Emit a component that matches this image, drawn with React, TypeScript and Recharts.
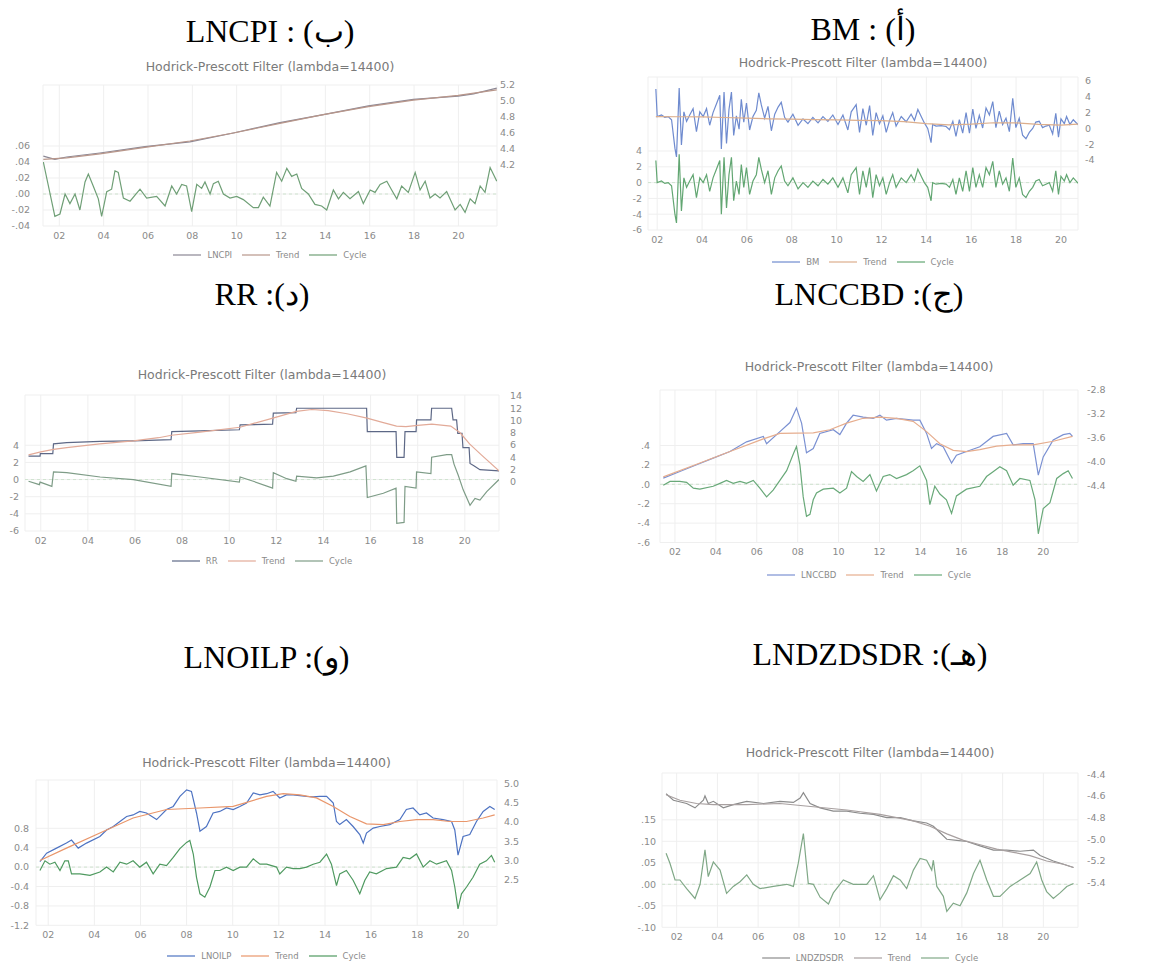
import { LineChart, Line, XAxis, YAxis, CartesianGrid, ReferenceLine } from "recharts";

type Pt = [number, number];

const TITLE = "Hodrick-Prescott Filter (lambda=14400)";
const yearTicks = [2002, 2004, 2006, 2008, 2010, 2012, 2014, 2016, 2018, 2020];

// (ب) LNCPI
const cpiLevel: Pt[] = [
  [2001.28, 4.31], [2001.8, 4.27], [2002.33, 4.3], [2003.83, 4.35], [2005.86, 4.43], [2007.89, 4.49],
  [2009.85, 4.6], [2011.95, 4.73], [2013.91, 4.83], [2015.94, 4.94], [2017.97, 5.02], [2019.99, 5.06],
  [2020.68, 5.09], [2021.73, 5.16],
];
const cpiTrend: Pt[] = [
  [2001.28, 4.27], [2002.33, 4.29], [2003.83, 4.34], [2005.86, 4.42], [2007.89, 4.5], [2009.85, 4.6],
  [2011.95, 4.72], [2013.91, 4.83], [2015.94, 4.93], [2017.97, 5.01], [2019.99, 5.07], [2021.73, 5.14],
];
const cpiCycle: Pt[] = [
  [2001.28, 0.04], [2001.8, -0.028], [2002.03, -0.025], [2002.26, 0], [2002.48, -0.012], [2002.71, 0],
  [2002.93, -0.02], [2003.16, 0.015], [2003.31, 0.025], [2003.53, 0.01], [2003.76, -0.006], [2003.91, -0.028],
  [2004.14, 0.003], [2004.36, 0.006], [2004.51, 0.029], [2004.66, 0.027], [2004.89, -0.005], [2005.19, -0.009],
  [2005.64, 0.006], [2005.94, -0.005], [2006.39, -0.003], [2006.77, -0.015], [2007.07, 0.01], [2007.29, 0],
  [2007.52, 0.012], [2007.74, 0.01], [2007.97, -0.022], [2008.2, 0.012], [2008.42, 0.007], [2008.57, 0.015],
  [2008.8, 0], [2008.95, 0.013], [2009.17, 0.016], [2009.4, 0], [2009.7, -0.005], [2010.0, -0.003],
  [2010.3, -0.007], [2010.75, -0.017], [2010.98, -0.017], [2011.2, -0.004], [2011.5, -0.015], [2011.8, 0.027],
  [2012.03, 0.016], [2012.26, 0.032], [2012.48, 0.022], [2012.71, 0.025], [2012.93, 0.007], [2013.23, 0],
  [2013.53, -0.013], [2013.83, -0.015], [2014.06, -0.02], [2014.36, 0.005], [2014.59, -0.006], [2014.81, 0.002],
  [2015.11, -0.006], [2015.49, 0.003], [2015.71, -0.012], [2016.02, 0.005], [2016.24, 0.002], [2016.47, 0.012],
  [2016.77, 0.016], [2016.99, 0.005], [2017.22, -0.006], [2017.44, 0.01], [2017.74, 0.002], [2018.05, 0.027],
  [2018.27, 0.005], [2018.5, 0.016], [2018.72, -0.005], [2018.95, 0], [2019.17, -0.005], [2019.47, 0.003],
  [2019.85, -0.02], [2020.08, -0.013], [2020.3, -0.023], [2020.53, -0.006], [2020.75, -0.012], [2020.98, 0.01],
  [2021.2, 0.002], [2021.43, 0.033], [2021.73, 0.016],
];

// (أ) BM
const bmLevel: Pt[] = [
  [2001.94, 5.0], [2002.0, 1.5], [2002.19, 1.7], [2002.34, 1.4], [2002.49, 1.5], [2002.64, 1.1], [2002.79, -2.5],
  [2002.86, -3.6], [2002.98, 5.1], [2003.08, -2.1], [2003.19, 2.1], [2003.31, 0.9], [2003.45, 1.7], [2003.6, 2.5],
  [2003.75, -0.4], [2003.9, 2.1], [2004.05, 1.5], [2004.2, 2.5], [2004.34, 0.4], [2004.49, 2.0], [2004.64, 3.1],
  [2004.79, 4.2], [2004.86, -2.6], [2004.98, 4.6], [2005.09, -1.9], [2005.2, 2.4], [2005.31, 4.6], [2005.41, -0.9],
  [2005.53, 1.6], [2005.65, -0.1], [2005.75, 3.7], [2005.86, 0.8], [2005.98, 3.2], [2006.12, -0.2], [2006.27, 1.5],
  [2006.42, 2.3], [2006.53, 4.5], [2006.64, 3.0], [2006.79, 1.3], [2006.94, 2.8], [2007.09, -0.3], [2007.24, 1.8],
  [2007.39, 2.7], [2007.53, 3.3], [2007.68, 1.4], [2007.83, 0.8], [2008.05, 1.8], [2008.28, 0.4], [2008.5, 1.2],
  [2008.72, 0.6], [2008.94, 1.4], [2009.17, 0.7], [2009.39, 1.5], [2009.61, 0.9], [2009.83, 1.7], [2010.06, 0.5],
  [2010.28, 1.7], [2010.5, -0.2], [2010.65, 2.1], [2010.87, 3.0], [2011.02, -0.5], [2011.17, 2.5], [2011.32, 0.4],
  [2011.47, 2.9], [2011.61, -0.9], [2011.76, 2.0], [2011.91, 0.6], [2012.06, 1.6], [2012.21, -0.5], [2012.36, 1.0],
  [2012.5, 2.0], [2012.65, 0.3], [2012.88, 1.5], [2013.1, 0.85], [2013.32, 1.8], [2013.47, 1.0], [2013.62, 2.4],
  [2013.77, 1.5], [2013.91, 0.7], [2014.06, 0.0], [2014.21, -1.8], [2014.28, 0.5], [2014.43, 0.3], [2014.66, 0.35],
  [2014.88, 0.25], [2015.03, -0.15], [2015.18, 0.9], [2015.32, -1.0], [2015.47, 1.1], [2015.62, -0.6], [2015.77, 2.0],
  [2015.92, -0.6], [2016.07, 2.45], [2016.21, 0.0], [2016.36, 1.65], [2016.51, 0.05], [2016.66, 2.6], [2016.81, 1.7],
  [2016.96, 3.4], [2017.1, 0.1], [2017.25, 2.2], [2017.4, 0.5], [2017.55, 1.3], [2017.7, -0.4], [2017.85, 3.8],
  [2017.99, 0.1], [2018.14, 1.3], [2018.29, -0.85], [2018.44, -1.3], [2018.59, -0.5], [2018.74, 0.0], [2018.88, 0.8],
  [2019.03, 0.9], [2019.18, 0.1], [2019.33, 0.3], [2019.48, 0.4], [2019.63, -0.7], [2019.77, 1.9], [2019.89, -1.1],
  [2020.0, 1.2], [2020.15, 0.6], [2020.25, 1.5], [2020.4, 0.5], [2020.55, 1.1], [2020.77, 0.45],
];
const bmTrend: Pt[] = [
  [2001.94, 1.5], [2003, 1.48], [2004, 1.45], [2005, 1.38], [2006, 1.3], [2007, 1.22], [2008, 1.18], [2009, 1.12],
  [2010, 1.08], [2011, 1.02], [2012, 0.98], [2013, 0.85], [2014, 0.6], [2015, 0.45], [2016, 0.55], [2017, 0.72],
  [2018, 0.7], [2019, 0.5], [2020, 0.42], [2020.77, 0.55],
];
const bmCycle: Pt[] = [
  [2001.94, 2.8], [2002.0, 0], [2002.19, 0.2], [2002.34, -0.1], [2002.49, 0], [2002.64, -0.4], [2002.79, -4.0],
  [2002.86, -5.1], [2002.98, 3.6], [2003.08, -3.6], [2003.19, 0.6], [2003.31, -0.6], [2003.45, 0.2], [2003.6, 1.0],
  [2003.75, -1.9], [2003.9, 0.6], [2004.05, 0], [2004.2, 1.0], [2004.34, -1.1], [2004.49, 0.6], [2004.64, 1.7],
  [2004.79, 2.8], [2004.86, -4.0], [2004.98, 3.2], [2005.09, -3.2], [2005.2, 1.0], [2005.31, 3.2], [2005.41, -2.3],
  [2005.53, 0.2], [2005.65, -1.5], [2005.75, 2.3], [2005.86, -0.6], [2005.98, 1.9], [2006.12, -1.5], [2006.27, 0.2],
  [2006.42, 1.0], [2006.53, 3.2], [2006.64, 1.7], [2006.79, 0], [2006.94, 1.5], [2007.09, -1.5], [2007.24, 0.6],
  [2007.39, 1.5], [2007.53, 2.1], [2007.68, 0.2], [2007.83, -0.4], [2008.05, 0.6], [2008.28, -0.8], [2008.5, 0],
  [2008.72, -0.6], [2008.94, 0.2], [2009.17, -0.4], [2009.39, 0.4], [2009.61, -0.2], [2009.83, 0.6], [2010.06, -0.6],
  [2010.28, 0.6], [2010.5, -1.3], [2010.65, 1.0], [2010.87, 1.9], [2011.02, -1.5], [2011.17, 1.5], [2011.32, -0.6],
  [2011.47, 1.9], [2011.61, -1.9], [2011.76, 1.0], [2011.91, -0.4], [2012.06, 0.6], [2012.21, -1.5], [2012.36, 0],
  [2012.5, 1.0], [2012.65, -0.6], [2012.88, 0.6], [2013.1, 0], [2013.32, 1.0], [2013.47, 0.2], [2013.62, 1.7],
  [2013.77, 0.8], [2013.91, 0], [2014.06, -0.6], [2014.21, -2.3], [2014.28, 0], [2014.43, -0.2], [2014.66, -0.1],
  [2014.88, -0.2], [2015.03, -0.6], [2015.18, 0.4], [2015.32, -1.5], [2015.47, 0.6], [2015.62, -1.1], [2015.77, 1.5],
  [2015.92, -1.1], [2016.07, 1.9], [2016.21, -0.6], [2016.36, 1.0], [2016.51, -0.6], [2016.66, 1.9], [2016.81, 1.0],
  [2016.96, 2.7], [2017.1, -0.6], [2017.25, 1.5], [2017.4, -0.2], [2017.55, 0.6], [2017.7, -1.1], [2017.85, 3.1],
  [2017.99, -0.6], [2018.14, 0.6], [2018.29, -1.5], [2018.44, -1.9], [2018.59, -1.1], [2018.74, -0.6], [2018.88, 0.2],
  [2019.03, 0.4], [2019.18, -0.4], [2019.33, -0.2], [2019.48, 0], [2019.63, -1.1], [2019.77, 1.5], [2019.89, -1.5],
  [2020.0, 0.8], [2020.15, 0.2], [2020.25, 1.0], [2020.4, 0], [2020.55, 0.6], [2020.77, -0.1],
];

// (د) RR
const rrLevel: Pt[] = [
  [2001.48, 4.2], [2001.97, 4.2], [2001.98, 4.6], [2002.51, 4.6], [2002.54, 6.2], [2003.1, 6.4], [2004.52, 6.6],
  [2005.93, 6.7], [2007.53, 6.9], [2007.56, 8.2], [2008.76, 8.3], [2010.43, 8.5], [2010.46, 9.3], [2011.84, 9.4],
  [2011.87, 11.2], [2012.83, 11.3], [2012.86, 12.0], [2015.83, 12.0], [2015.86, 8.2], [2017.08, 8.2], [2017.11, 4.0],
  [2017.42, 4.0], [2017.46, 8.2], [2017.93, 8.2], [2017.95, 10.1], [2018.56, 10.1], [2018.59, 12.0], [2019.44, 12.0],
  [2019.5, 10.1], [2019.65, 10.1], [2019.7, 7.9], [2019.88, 7.9], [2019.92, 5.6], [2020.18, 5.6], [2020.22, 3.0],
  [2020.4, 2.6], [2020.64, 2.0], [2021.45, 1.8],
];
const rrTrend: Pt[] = [
  [2001.48, 4.4], [2002.0, 4.9], [2002.54, 5.3], [2003.1, 5.6], [2004.5, 6.2], [2005.93, 6.7], [2007.0, 7.2],
  [2007.55, 7.6], [2008.76, 8.1], [2010.45, 8.9], [2011.0, 9.5], [2011.85, 10.4], [2012.85, 11.5], [2013.5, 11.8],
  [2014.2, 11.6], [2015.0, 11.1], [2015.85, 10.4], [2016.5, 9.7], [2017.1, 9.1], [2017.5, 9.0], [2018.0, 9.2],
  [2018.6, 9.4], [2019.4, 9.1], [2019.8, 8.0], [2020.2, 6.2], [2020.7, 4.4], [2021.45, 1.8],
];
const rrCycle: Pt[] = [
  [2001.48, -0.2], [2001.94, -0.6], [2001.97, -0.3], [2002.47, -0.8], [2002.54, 0.9], [2003.1, 0.8], [2004.52, 0.3],
  [2005.93, 0.0], [2007.53, -0.8], [2007.56, 0.7], [2008.76, 0.3], [2010.43, -0.3], [2010.46, 0.3], [2011.02, -0.2],
  [2011.84, -1.0], [2011.87, 0.8], [2012.44, 0.1], [2012.83, -0.2], [2012.86, 0.4], [2013.71, 0.2], [2014.42, 0.4],
  [2015.13, 0.9], [2015.8, 1.6], [2015.86, -2.1], [2016.54, -1.6], [2017.08, -1.0], [2017.11, -5.1], [2017.42, -5.0],
  [2017.46, -0.8], [2017.93, -1.0], [2017.95, 0.9], [2018.56, 0.7], [2018.59, 2.6], [2019.23, 2.9], [2019.44, 2.9],
  [2019.54, 1.8], [2019.72, 0.5], [2019.93, -1.2], [2020.22, -3.0], [2020.43, -2.2], [2020.64, -2.4], [2020.93, -1.4],
  [2021.45, 0.0],
];

// (ج) LNCCBD
const ccbdLevel: Pt[] = [
  [2001.43, -4.27], [2002.24, -4.16], [2003.06, -4.05], [2003.87, -3.94], [2004.69, -3.83], [2005.5, -3.67],
  [2006.32, -3.58], [2006.48, -3.7], [2007.13, -3.5], [2007.62, -3.35], [2007.94, -3.11], [2008.19, -3.36],
  [2008.43, -3.85], [2008.76, -3.78], [2009.08, -3.53], [2009.74, -3.47], [2010.06, -3.55], [2010.39, -3.36],
  [2010.71, -3.23], [2011.2, -3.26], [2011.69, -3.28], [2012.02, -3.23], [2012.34, -3.31], [2012.83, -3.28],
  [2013.64, -3.31], [2013.97, -3.31], [2014.3, -3.53], [2014.54, -3.78], [2014.79, -3.7], [2015.11, -3.75],
  [2015.52, -4.02], [2015.76, -3.89], [2016.25, -3.83], [2016.9, -3.75], [2017.55, -3.58], [2018.21, -3.53],
  [2018.53, -3.72], [2019.02, -3.7], [2019.51, -3.7], [2019.76, -4.22], [2020.0, -3.92], [2020.49, -3.64],
  [2020.98, -3.55], [2021.3, -3.53], [2021.43, -3.58],
];
const ccbdTrend: Pt[] = [
  [2001.43, -4.25], [2003.06, -4.04], [2004.69, -3.83], [2006.32, -3.62], [2007.13, -3.53], [2008.76, -3.52],
  [2009.57, -3.47], [2010.39, -3.36], [2011.2, -3.28], [2012.02, -3.26], [2012.83, -3.28], [2013.64, -3.33],
  [2014.3, -3.5], [2014.95, -3.7], [2015.6, -3.81], [2016.25, -3.83], [2016.9, -3.8], [2017.72, -3.74],
  [2018.53, -3.72], [2019.51, -3.72], [2020.49, -3.66], [2021.43, -3.58],
];
const ccbdCycle: Pt[] = [
  [2001.43, -0.01], [2001.76, 0.03], [2002.24, 0.03], [2002.57, 0.02], [2002.9, -0.04], [2003.22, -0.05],
  [2003.87, -0.02], [2004.2, 0.01], [2004.52, 0.04], [2004.85, 0.01], [2005.18, 0.03], [2005.5, 0.01],
  [2005.83, 0.04], [2006.15, -0.04], [2006.48, -0.13], [2006.8, -0.06], [2007.13, 0.04], [2007.46, 0.14],
  [2007.78, 0.31], [2007.94, 0.39], [2008.11, 0.2], [2008.27, -0.13], [2008.43, -0.33], [2008.6, -0.31],
  [2008.76, -0.16], [2008.92, -0.09], [2009.25, -0.05], [2009.74, -0.04], [2010.06, -0.09], [2010.39, -0.04],
  [2010.63, 0.13], [2010.88, 0.08], [2011.2, 0.03], [2011.53, 0.1], [2011.85, -0.07], [2012.18, 0.08],
  [2012.5, 0.1], [2012.83, 0.06], [2013.32, 0.1], [2013.64, 0.14], [2013.97, 0.19], [2014.3, 0.04],
  [2014.46, -0.21], [2014.7, -0.02], [2014.95, -0.1], [2015.27, -0.16], [2015.52, -0.3], [2015.76, -0.12],
  [2016.25, -0.05], [2016.9, -0.02], [2017.23, 0.08], [2017.55, 0.13], [2017.88, 0.18], [2018.21, 0.14],
  [2018.53, -0.01], [2018.86, 0.06], [2019.35, 0.04], [2019.6, -0.16], [2019.76, -0.51], [2020.0, -0.25],
  [2020.33, -0.19], [2020.66, 0.06], [2020.98, 0.11], [2021.22, 0.14], [2021.43, 0.06],
];

// (و) LNOILP
const oilLevel: Pt[] = [
  [2001.64, 2.97], [2001.93, 3.19], [2002.36, 3.32], [2002.79, 3.45], [2003.01, 3.53], [2003.3, 3.32],
  [2003.66, 3.45], [2004.24, 3.62], [2004.53, 3.79], [2004.82, 3.88], [2005.11, 4.01], [2005.4, 4.14],
  [2005.68, 4.18], [2005.97, 4.27], [2006.26, 4.23], [2006.7, 4.06], [2007.13, 4.32], [2007.42, 4.4],
  [2007.71, 4.66], [2008.0, 4.83], [2008.21, 4.79], [2008.43, 4.23], [2008.58, 3.76], [2008.86, 3.88],
  [2009.15, 4.23], [2009.44, 4.27], [2009.73, 4.36], [2010.02, 4.32], [2010.31, 4.4], [2010.6, 4.49],
  [2010.89, 4.75], [2011.18, 4.7], [2011.47, 4.73], [2011.75, 4.79], [2012.04, 4.62], [2012.33, 4.7],
  [2012.62, 4.7], [2012.91, 4.68], [2013.2, 4.66], [2013.49, 4.65], [2013.78, 4.66], [2014.07, 4.66],
  [2014.36, 4.49], [2014.5, 4.01], [2014.64, 3.93], [2014.93, 4.06], [2015.22, 3.88], [2015.51, 3.67],
  [2015.66, 3.45], [2015.8, 3.71], [2016.09, 3.84], [2016.38, 3.88], [2016.81, 3.93], [2017.25, 4.06],
  [2017.53, 4.32], [2017.82, 4.36], [2018.11, 4.18], [2018.4, 4.23], [2018.69, 4.1], [2019.12, 4.06],
  [2019.49, 4.01], [2019.63, 3.79], [2019.77, 3.14], [2019.99, 3.62], [2020.28, 3.67], [2020.57, 4.01],
  [2020.86, 4.27], [2021.15, 4.4], [2021.36, 4.32],
];
const oilTrend: Pt[] = [
  [2001.64, 3.0], [2002.79, 3.32], [2004.24, 3.71], [2005.68, 4.1], [2007.13, 4.32], [2008.58, 4.36],
  [2010.02, 4.4], [2011.47, 4.66], [2012.19, 4.73], [2012.91, 4.7], [2013.63, 4.62], [2014.36, 4.4],
  [2015.08, 4.14], [2015.8, 3.95], [2016.53, 3.93], [2017.25, 4.01], [2017.97, 4.06], [2018.69, 4.06],
  [2019.41, 4.01], [2020.14, 4.01], [2020.86, 4.1], [2021.36, 4.18],
];
const oilCycle: Pt[] = [
  [2001.64, -0.07], [2001.86, 0.13], [2002.07, 0.06], [2002.29, 0.1], [2002.51, -0.07], [2002.72, 0.13],
  [2002.87, 0.13], [2003.01, -0.14], [2003.37, -0.14], [2003.81, -0.17], [2004.24, -0.1], [2004.53, 0],
  [2004.82, -0.1], [2005.11, 0.1], [2005.4, 0.06], [2005.68, 0.13], [2005.97, 0], [2006.26, 0.1],
  [2006.55, -0.14], [2006.84, 0.06], [2007.13, 0.03], [2007.42, 0.2], [2007.71, 0.38], [2008.0, 0.51],
  [2008.14, 0.55], [2008.29, 0.27], [2008.43, -0.21], [2008.58, -0.55], [2008.79, -0.62], [2009.01, -0.41],
  [2009.23, -0.07], [2009.44, -0.07], [2009.73, 0], [2010.02, -0.07], [2010.31, 0], [2010.6, 0],
  [2010.89, 0.17], [2011.18, 0.06], [2011.47, 0.06], [2011.9, 0], [2012.04, -0.14], [2012.33, 0],
  [2012.62, -0.03], [2012.91, -0.03], [2013.2, 0], [2013.49, 0.06], [2013.78, 0.1], [2014.07, 0.27],
  [2014.28, 0.06], [2014.5, -0.38], [2014.64, -0.14], [2014.93, -0.07], [2015.22, -0.27], [2015.51, -0.55],
  [2015.73, -0.27], [2015.94, -0.1], [2016.23, -0.14], [2016.67, -0.03], [2017.1, 0], [2017.39, 0.2],
  [2017.68, 0.17], [2017.97, 0.27], [2018.26, 0], [2018.55, 0.13], [2018.84, 0.06], [2019.27, 0.13],
  [2019.49, -0.07], [2019.63, -0.41], [2019.77, -0.86], [2019.92, -0.55], [2020.14, -0.41], [2020.42, -0.21],
  [2020.71, 0.06], [2021.0, 0.13], [2021.22, 0.24], [2021.36, 0.1],
];

// (هـ) LNDZDSDR
const dzdLevel: Pt[] = [
  [2001.48, -4.58], [2001.84, -4.64], [2002.49, -4.67], [2002.9, -4.71], [2003.31, -4.64], [2003.39, -4.6],
  [2003.55, -4.67], [2003.8, -4.65], [2004.29, -4.71], [2004.78, -4.68], [2005.44, -4.65], [2006.26, -4.67],
  [2007.07, -4.65], [2007.73, -4.66], [2008.06, -4.62], [2008.22, -4.57], [2008.55, -4.67], [2009.04, -4.71],
  [2009.69, -4.74], [2010.35, -4.74], [2011.0, -4.76], [2011.66, -4.77], [2012.31, -4.8], [2012.97, -4.8],
  [2013.62, -4.83], [2014.27, -4.85], [2014.6, -4.88], [2014.93, -4.94], [2015.26, -5.0], [2015.75, -5.01],
  [2016.24, -5.02], [2016.89, -5.06], [2017.55, -5.1], [2018.2, -5.1], [2018.86, -5.11], [2019.51, -5.1],
  [2019.84, -5.15], [2020.49, -5.2], [2020.99, -5.23], [2021.48, -5.26],
];
const dzdTrend: Pt[] = [
  [2001.48, -4.59], [2002.16, -4.64], [2002.98, -4.67], [2003.8, -4.68], [2005.44, -4.68], [2007.07, -4.67],
  [2008.71, -4.7], [2010.35, -4.73], [2011.98, -4.77], [2013.62, -4.83], [2014.44, -4.88], [2015.26, -4.95],
  [2016.08, -5.01], [2016.89, -5.05], [2017.71, -5.09], [2018.53, -5.12], [2019.35, -5.15], [2020.16, -5.2],
  [2020.99, -5.23], [2021.48, -5.26],
];
const dzdCycle: Pt[] = [
  [2001.48, 0.072], [2001.67, 0.049], [2001.92, 0.01], [2002.16, 0.01], [2002.49, -0.01], [2002.9, -0.033],
  [2003.15, 0], [2003.39, 0.08], [2003.55, 0.018], [2003.8, 0.052], [2004.13, 0.033], [2004.45, -0.021],
  [2004.78, -0.005], [2005.11, 0.006], [2005.44, 0.022], [2005.76, 0], [2006.09, -0.01], [2006.75, -0.005],
  [2007.4, 0], [2007.73, -0.005], [2007.97, 0.049], [2008.22, 0.118], [2008.46, 0.002], [2008.71, 0],
  [2009.04, -0.03], [2009.45, -0.046], [2009.69, -0.02], [2010.18, 0.01], [2010.67, 0], [2011.33, 0],
  [2011.66, 0.02], [2011.98, -0.036], [2012.31, -0.01], [2012.64, 0.02], [2012.97, 0.01], [2013.29, -0.01],
  [2013.62, 0.033], [2013.95, 0.06], [2014.27, 0.056], [2014.52, 0.033], [2014.6, 0.056], [2014.77, -0.005],
  [2015.09, -0.028], [2015.26, -0.063], [2015.58, -0.044], [2015.91, -0.05], [2016.24, -0.02], [2016.57, 0.025],
  [2016.89, 0.056], [2017.22, 0.01], [2017.55, -0.028], [2017.87, -0.028], [2018.37, -0.005], [2018.86, 0.01],
  [2019.35, 0.025], [2019.67, 0.052], [2019.92, 0.01], [2020.16, -0.017], [2020.49, -0.033], [2020.82, -0.02],
  [2021.15, -0.005], [2021.48, 0.002],
];

const cpiLeftTicks = [-0.04, -0.02, 0, 0.02, 0.04, 0.06];
const cpiRightTicks = [4.2, 4.4, 4.6, 4.8, 5.0, 5.2];
const bmLeftTicks = [-6, -4, -2, 0, 2, 4];
const bmRightTicks = [-4, -2, 0, 2, 4, 6];
const rrLeftTicks = [-6, -4, -2, 0, 2, 4];
const rrRightTicks = [0, 2, 4, 6, 8, 10, 12, 14];
const ccbdLeftTicks = [-0.6, -0.4, -0.2, 0, 0.2, 0.4];
const ccbdRightTicks = [-4.4, -4.0, -3.6, -3.2, -2.8];
const oilLeftTicks = [-1.2, -0.8, -0.4, 0, 0.4, 0.8];
const oilRightTicks = [2.5, 3.0, 3.5, 4.0, 4.5, 5.0];
const dzdLeftTicks = [-0.1, -0.05, 0, 0.05, 0.1, 0.15];
const dzdRightTicks = [-5.4, -5.2, -5.0, -4.8, -4.6, -4.4];

interface AxisDef {
  domain: [number, number];
  ticks: number[];
  dec: number;
  strip: boolean;
  gap: number;
}

interface PanelDef {
  heading: string;
  headTop: number;
  titleY: number;
  legendY: number;
  box: { l: number; r: number; t: number; b: number };
  xDomain: [number, number];
  left: AxisDef;
  right: AxisDef;
  names: [string, string, string];
  colors: [string, string, string];
  lines: [Pt[], Pt[], Pt[]];
}

const fmt = (dec: number, strip: boolean) => (v: number) => {
  const s = v.toFixed(dec);
  return strip ? s.replace(/^(-?)0\./, "$1.") : s;
};

const panels: PanelDef[] = [
  {
    heading: "LNCPI : (ب)", headTop: 15, titleY: 67, legendY: 255,
    box: { l: 43, r: 497, t: 85, b: 226 }, xDomain: [2001.265, 2021.74],
    left: { domain: [-0.04, 0.13625], ticks: cpiLeftTicks, dec: 2, strip: true, gap: 13 },
    right: { domain: [3.4375, 5.2], ticks: cpiRightTicks, dec: 1, strip: false, gap: 3 },
    names: ["LNCPI", "Trend", "Cycle"], colors: ["#8b8794", "#b8968a", "#6f9f76"],
    lines: [cpiLevel, cpiTrend, cpiCycle],
  },
  {
    heading: "BM : (أ)", headTop: 13, titleY: 63, legendY: 262,
    box: { l: 648, r: 1078, t: 77, b: 230 }, xDomain: [2001.59, 2020.76],
    left: { domain: [-6, 13.37], ticks: bmLeftTicks, dec: 0, strip: false, gap: 6 },
    right: { domain: [-12.86, 6.51], ticks: bmRightTicks, dec: 0, strip: false, gap: 7 },
    names: ["BM", "Trend", "Cycle"], colors: ["#6f8bcf", "#dcae8c", "#62a672"],
    lines: [bmLevel, bmTrend, bmCycle],
  },
  {
    heading: "RR :(د)", headTop: 278, titleY: 375, legendY: 561,
    box: { l: 25, r: 499, t: 395, b: 531 }, xDomain: [2001.33, 2021.45],
    left: { domain: [-6, 9.86], ticks: rrLeftTicks, dec: 0, strip: false, gap: 6 },
    right: { domain: [-8.0, 14.16], ticks: rrRightTicks, dec: 0, strip: false, gap: 11 },
    names: ["RR", "Trend", "Cycle"], colors: ["#5d6886", "#e2aa98", "#7e9c87"],
    lines: [rrLevel, rrTrend, rrCycle],
  },
  {
    heading: "LNCCBD :(ج)", headTop: 278, titleY: 367, legendY: 575,
    box: { l: 660, r: 1078, t: 390, b: 542.5 }, xDomain: [2001.27, 2021.7],
    left: { domain: [-0.6, 0.972], ticks: ccbdLeftTicks, dec: 1, strip: true, gap: 10 },
    right: { domain: [-5.336, -2.8116], ticks: ccbdRightTicks, dec: 1, strip: false, gap: 9 },
    names: ["LNCCBD", "Trend", "Cycle"], colors: ["#7b91d2", "#e6ad8e", "#69a979"],
    lines: [ccbdLevel, ccbdTrend, ccbdCycle],
  },
  {
    heading: "LNOILP :(و)", headTop: 641, titleY: 763, legendY: 956,
    box: { l: 36, r: 497, t: 780, b: 925.3 }, xDomain: [2001.47, 2021.46],
    left: { domain: [-1.2, 1.796], ticks: oilLeftTicks, dec: 1, strip: false, gap: 7 },
    right: { domain: [1.32, 5.085], ticks: oilRightTicks, dec: 1, strip: false, gap: 7 },
    names: ["LNOILP", "Trend", "Cycle"], colors: ["#4e73c2", "#e9966b", "#4f9a60"],
    lines: [oilLevel, oilTrend, oilCycle],
  },
  {
    heading: "LNDZDSDR :(هـ)", headTop: 638, titleY: 753, legendY: 958,
    box: { l: 662, r: 1078, t: 773, b: 927.3 }, xDomain: [2001.28, 2021.7],
    left: { domain: [-0.1, 0.2588], ticks: dzdLeftTicks, dec: 2, strip: true, gap: 6 },
    right: { domain: [-5.811, -4.389], ticks: dzdRightTicks, dec: 1, strip: false, gap: 9 },
    names: ["LNDZDSDR", "Trend", "Cycle"], colors: ["#8c8c8c", "#a8a0a0", "#80a887"],
    lines: [dzdLevel, dzdTrend, dzdCycle],
  },
];

const AX = 50;
const XH = 22;
const TOP = 10;
const tickStyle = { fontSize: 9.5, fill: "#8a8a8a", fontFamily: "DejaVu Sans" };

function Panel({ p }: { p: PanelDef }) {
  const { l, r, t, b } = p.box;
  const w = r - l + 2 * AX;
  const h = b - t + XH + TOP;
  const cx = (l + r) / 2;
  return (
    <>
      <div
        dir="ltr"
        style={{
          position: "absolute", left: cx - 250, width: 500, top: p.headTop, textAlign: "center",
          fontFamily: "'Liberation Serif', 'Times New Roman', serif", fontSize: 32, lineHeight: "32px",
          color: "#000", whiteSpace: "nowrap",
        }}
      >
        {p.heading}
      </div>
      <div
        style={{
          position: "absolute", left: cx - 200, width: 400, top: p.titleY - 8, textAlign: "center",
          fontFamily: "DejaVu Sans", fontSize: 12.5, lineHeight: "16px", color: "#7a7a7a",
        }}
      >
        {TITLE}
      </div>
      <div style={{ position: "absolute", left: l - AX, top: t - TOP }}>
        <LineChart width={w} height={h} margin={{ top: TOP, right: 0, bottom: 0, left: 0 }}>
          <CartesianGrid yAxisId="L" stroke="#efefef" />
          <XAxis
            type="number" dataKey="x" domain={p.xDomain} ticks={yearTicks} interval={0} allowDataOverflow
            tickFormatter={(v: number) => String(v % 100).padStart(2, "0")}
            height={XH} tickLine={false} axisLine={false} tickSize={0} tickMargin={6} tick={tickStyle}
          />
          <YAxis
            yAxisId="L" orientation="left" type="number" domain={p.left.domain} ticks={p.left.ticks}
            interval={0} allowDataOverflow width={AX} tickLine={false} axisLine={false} tickSize={0}
            tickMargin={p.left.gap} tick={tickStyle} tickFormatter={fmt(p.left.dec, p.left.strip)}
          />
          <YAxis
            yAxisId="R" orientation="right" type="number" domain={p.right.domain} ticks={p.right.ticks}
            interval={0} allowDataOverflow width={AX} tickLine={false} axisLine={false} tickSize={0}
            tickMargin={p.right.gap} tick={tickStyle} tickFormatter={fmt(p.right.dec, p.right.strip)}
          />
          <ReferenceLine yAxisId="L" y={0} stroke="#cfe3cf" strokeDasharray="3 3" />
          {p.lines.map((pts, i) => (
            <Line
              key={p.names[i]}
              name={p.names[i]}
              yAxisId={i === 2 ? "L" : "R"}
              data={pts.map(([x, y]) => ({ x, y }))}
              dataKey="y"
              type="linear"
              dot={false}
              stroke={p.colors[i]}
              strokeWidth={1.2}
              isAnimationActive={false}
            />
          ))}
        </LineChart>
      </div>
      <div
        style={{
          position: "absolute", left: cx - 200, width: 400, top: p.legendY - 7, height: 14,
          display: "flex", justifyContent: "center", alignItems: "center", gap: 10,
          fontFamily: "DejaVu Sans", fontSize: 8.5, color: "#8a8a8a",
        }}
      >
        {p.names.map((n, i) => (
          <span key={n} style={{ display: "flex", alignItems: "center", gap: 6 }}>
            <svg width={28} height={4}>
              <line x1={0} y1={2} x2={28} y2={2} stroke={p.colors[i]} strokeWidth={1.2} />
            </svg>
            {n}
          </span>
        ))}
      </div>
    </>
  );
}

export default function App() {
  return (
    <div style={{ position: "absolute", left: 0, top: 0, width: 1166, height: 963, background: "#fff", overflow: "hidden" }}>
      {panels.map((p) => (
        <Panel key={p.heading} p={p} />
      ))}
    </div>
  );
}
